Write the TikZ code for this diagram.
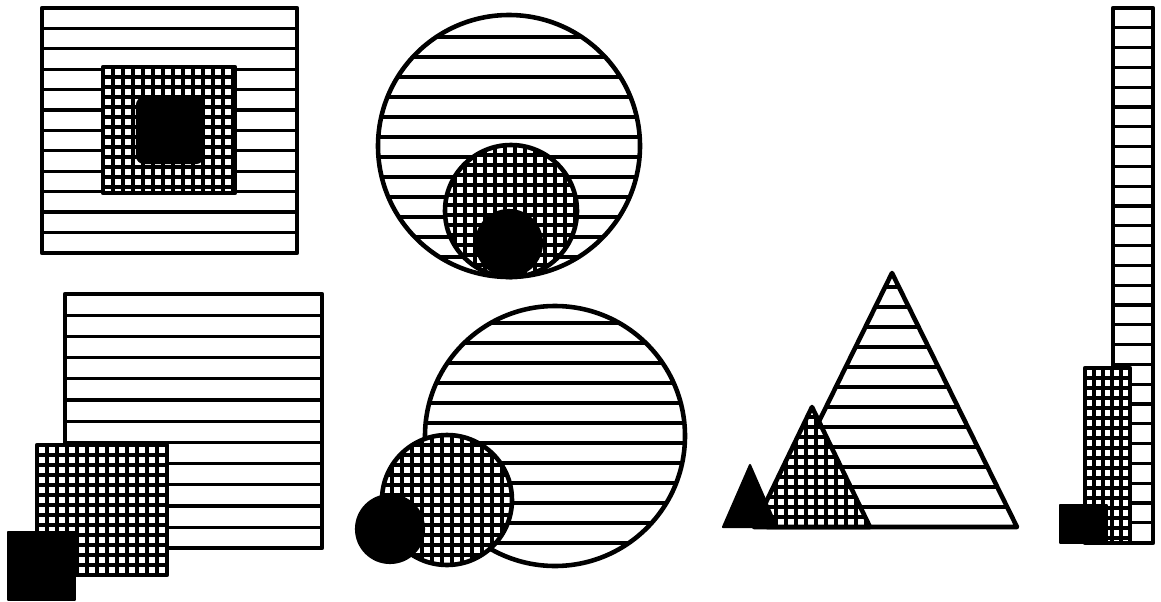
\documentclass[tikz,border=0pt]{standalone}
\tikzset{
    outline/.style = {line width=2.6pt},
    hatch/.style = {line width=1.8pt},
    mesh/.style = {line width=2pt},
    blackfill/.style = {fill=black, draw=black, line width=1.2pt}
}

\begin{document}
\begin{tikzpicture}[x=0.02cm, y=-0.02cm, line join=round]
\useasboundingbox (0,0) rectangle (1161,602);

% squares, top left
\foreach \k in {1,...,11} \draw[hatch] (42,{8+20.4*\k}) -- (297,{8+20.4*\k});
\draw[outline] (42,8) rectangle (297,253);
\fill[white] (103,67) rectangle (235,193);
\foreach \x in {113,123,...,233} \draw[mesh] (\x,67) -- (\x,193);
\foreach \y in {77,87,...,187} \draw[mesh] (103,\y) -- (235,\y);
\draw[outline] (103,67) rectangle (235,193);
\fill[blackfill, rounded corners=4pt] (137,98) rectangle (203,163);

% circles, top
\begin{scope}
  \clip (509,146) circle[radius=131];
  \foreach \y in {37,57,...,257} \draw[hatch] (370,\y) -- (650,\y);
\end{scope}
\draw[outline] (509,146) circle[radius=131];
\fill[white] (511,211) circle[radius=66];
\begin{scope}
  \clip (511,211) circle[radius=66];
  \foreach \x in {445,455,...,580} \draw[mesh] (\x,140) -- (\x,280);
  \foreach \y in {145,155,...,280} \draw[mesh] (440,\y) -- (580,\y);
\end{scope}
\draw[outline] (511,211) circle[radius=66];
\fill[blackfill] (509,243) circle[radius=33];

% squares, bottom left
\foreach \k in {1,...,11} \draw[hatch] (65,{294+21.2*\k}) -- (322,{294+21.2*\k});
\draw[outline] (65,294) rectangle (322,548);
\fill[white] (37,445) rectangle (167,575);
\foreach \x in {47,57,...,165} \draw[mesh] (\x,445) -- (\x,575);
\foreach \y in {455,465,...,573} \draw[mesh] (37,\y) -- (167,\y);
\draw[outline] (37,445) rectangle (167,575);
\fill[blackfill] (8,532) rectangle (75,600);

% circles, bottom
\begin{scope}
  \clip (555,436) circle[radius=130];
  \foreach \y in {323,343,...,543} \draw[hatch] (420,\y) -- (690,\y);
\end{scope}
\draw[outline] (555,436) circle[radius=130];
\fill[white] (447,500) circle[radius=65];
\begin{scope}
  \clip (447,500) circle[radius=65];
  \foreach \x in {382,392,...,512} \draw[mesh] (\x,430) -- (\x,570);
  \foreach \y in {435,445,...,570} \draw[mesh] (380,\y) -- (515,\y);
\end{scope}
\draw[outline] (447,500) circle[radius=65];
\fill[blackfill] (390,529) circle[radius=34];

% triangles
\begin{scope}
  \clip (892,273) -- (1017,527) -- (767,527) -- cycle;
  \foreach \y in {287,307,...,507} \draw[hatch] (760,\y) -- (1020,\y);
\end{scope}
\draw[outline] (892,273) -- (1017,527) -- (767,527) -- cycle;
\fill[white] (812,407) -- (870,527) -- (754,527) -- cycle;
\begin{scope}
  \clip (812,407) -- (870,527) -- (754,527) -- cycle;
  \foreach \x in {756,766,...,870} \draw[mesh] (\x,400) -- (\x,530);
  \foreach \y in {417,427,...,527} \draw[mesh] (750,\y) -- (875,\y);
\end{scope}
\draw[outline] (812,407) -- (870,527) -- (754,527) -- cycle;
\fill[blackfill] (750,465) -- (777,527) -- (723,527) -- cycle;

% bars, right
\foreach \k in {1,...,26} \draw[hatch] (1113,{8+19.8*\k}) -- (1153,{8+19.8*\k});
\draw[outline] (1113,8) rectangle (1153,543);
\fill[white] (1085,368) rectangle (1130,543);
\foreach \x in {1094,1103,...,1125} \draw[mesh] (\x,368) -- (\x,543);
\foreach \y in {378,388,...,540} \draw[mesh] (1085,\y) -- (1130,\y);
\draw[outline] (1085,368) rectangle (1130,543);
\fill[blackfill] (1060,505) rectangle (1107,543);

\end{tikzpicture}
\end{document}
